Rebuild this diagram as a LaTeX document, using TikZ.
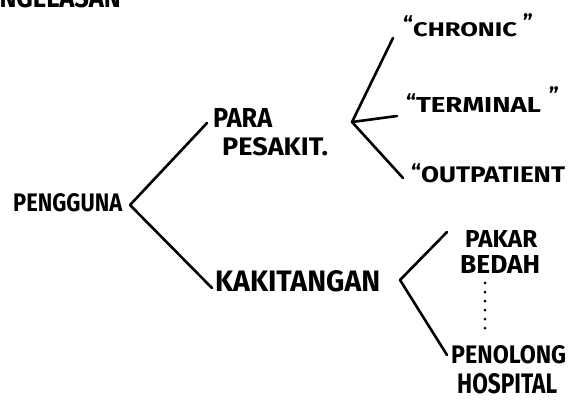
\documentclass[tikz,border=0pt]{standalone}
\usepackage{graphicx}
\usepackage{fontspec}
\setmainfont{Fira Sans}
\newcommand\hwfit[3]{\resizebox{#1pt}{#2pt}{#3}}
\newcommand\hwq[1]{{\fontsize{22}{22}\selectfont\bfseries #1}}
\begin{document}
\begin{tikzpicture}[x=1pt,y=-1pt,
  lbl/.style={inner sep=0pt, font=\bfseries, align=left},
  branch/.style={line width=2.6pt, line cap=round, line join=round}]
\useasboundingbox (0,0) rectangle (569,400);
\fill[white] (0,0) rectangle (569,400);
% title (cut off at top)
\node[lbl, anchor=south east] (title) at (121,8) {\hwfit{150}{20}{PENGELASAN}};
% nodes
\node[lbl, anchor=south west] (peng) at (13,212) {\hwfit{109}{18}{PENGGUNA}};
\node[lbl, anchor=north west, font=\fontsize{10}{28}\selectfont\bfseries] (para) at (213,108)
  {\hwfit{59}{19}{PARA}\\\hspace*{9pt}\hwfit{106}{18}{PESAKIT.}};
\node[lbl, anchor=south west] (kaki) at (215,292) {\hwfit{165}{21}{KAKITANGAN}};
\node[lbl, anchor=south west] (chr) at (403,37)
  {\raisebox{4pt}{\hwq{``}}\hwfit{104}{14}{CHRONIC}\hspace{6pt}\raisebox{6pt}{\hwq{''}}};
\node[lbl, anchor=south west] (ter) at (406,113)
  {\raisebox{2pt}{\hwq{``}}\hwfit{125}{15}{TERMINAL}\hspace{8pt}\raisebox{9pt}{\hwq{''}}};
\node[lbl, anchor=south west] (out) at (411,183)
  {\raisebox{2pt}{\hwq{``}}\hwfit{144}{16}{OUTPATIENT}};
\node[lbl, anchor=north west, font=\fontsize{10}{26}\selectfont\bfseries] (pakar) at (460,230)
  {\hspace*{5pt}\hwfit{72}{17}{PAKAR}\\\hwfit{80}{18}{BEDAH}};
\node[lbl, anchor=north west, font=\fontsize{10}{30}\selectfont\bfseries] (peno) at (451,345)
  {\hwfit{115}{18}{PENOLONG}\\\hspace*{6pt}\hwfit{100}{20}{HOSPITAL}};
% junctions and free ends
\coordinate (j1) at (130,205);
\coordinate (e1) at (207,123);
\coordinate (e2) at (212,288);
\coordinate (j2) at (352,122);
\coordinate (c1) at (393,38);
\coordinate (c2) at (397,116);
\coordinate (c3) at (403,178);
\coordinate (j3) at (400,280);
\coordinate (k1) at (447,232);
\coordinate (k2) at (447,355);
% connectors
\draw[branch] (e1) -- (j1) -- (e2);
\draw[branch] (c1) -- (j2) -- (c3);
\draw[branch] (j2) -- (c2);
\draw[branch] (k1) -- (j3) -- (k2);
% dots
\foreach \yy in {283,292,301,310,319,328}
  \fill (485,\yy) circle (1.5pt);
\end{tikzpicture}
\end{document}
